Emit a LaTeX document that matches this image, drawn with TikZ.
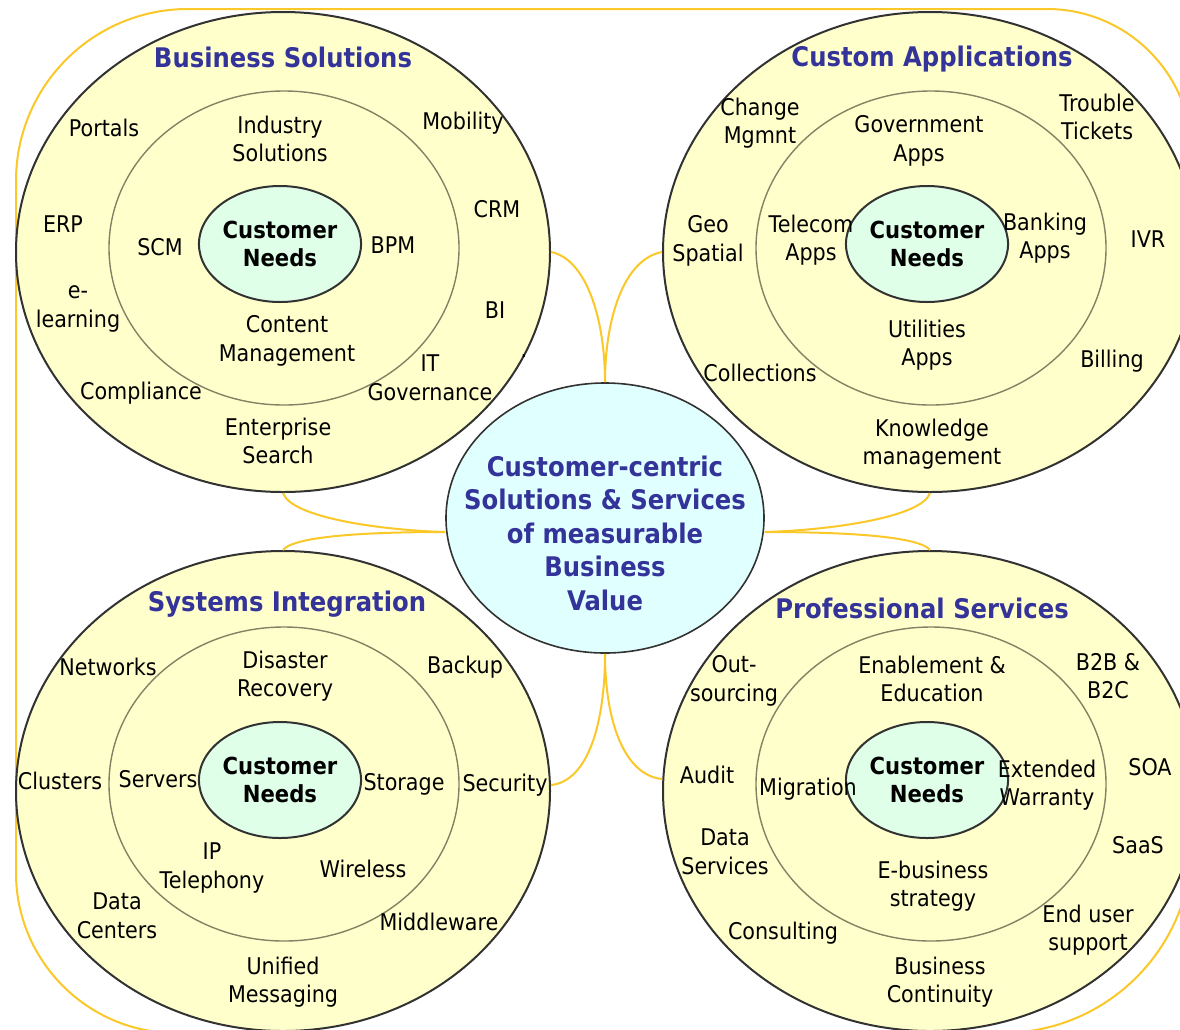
\documentclass[tikz,border=0pt]{standalone}
\usepackage{fontspec}
\setmainfont{DejaVu Sans}[FakeStretch=0.9]
\usetikzlibrary{shapes.geometric}
\definecolor{ringfill}{RGB}{255,255,204}
\definecolor{needfill}{RGB}{224,255,232}
\definecolor{hubfill}{RGB}{224,255,255}
\definecolor{gold}{RGB}{250,200,40}
\definecolor{titleblue}{RGB}{51,51,153}
\definecolor{ringline}{RGB}{50,50,50}
\definecolor{innerline}{RGB}{130,130,100}
\tikzset{
  outerring/.style={ellipse, draw=ringline, line width=2pt, fill=ringfill, minimum width=534pt, minimum height=480pt, inner sep=0pt},
  innerring/.style={ellipse, draw=innerline, line width=1.4pt, minimum width=350pt, minimum height=314pt, inner sep=0pt},
  needs/.style={ellipse, draw=ringline, line width=2pt, fill=needfill, minimum width=136pt, minimum height=116pt, inner sep=0pt, font=\bfseries\fontsize{23.5}{28}\selectfont, align=center},
  hub/.style={ellipse, draw=ringline, line width=1.6pt, fill=hubfill, minimum width=318pt, minimum height=270pt, inner sep=0pt},
  hubtext/.style={font=\bfseries\fontsize{27}{33.5}\selectfont, text=titleblue, align=center, inner sep=0pt},
  ringtitle/.style={font=\bfseries\fontsize{27}{32}\selectfont, text=titleblue, inner sep=0pt},
  lbl/.style={font=\fontsize{23}{28.5}\selectfont, align=center, inner sep=0pt},
  conn/.style={draw=gold, line width=2pt},
  framecurve/.style={draw=gold, line width=2pt}
}
\begin{document}
\begin{tikzpicture}[x=1pt,y=-1pt]
\useasboundingbox (0,0) rectangle (1180,1029);
\fill[white] (0,0) rectangle (1180,1029);
\begin{scope}
\clip (0,0) rectangle (1180,1029);
% outer frame: open on the right, where it runs beyond the picture
\draw[framecurve] (1192,154)
  .. controls (1192,74) and (1127,9) .. (1047,9) -- (188,9)
  .. controls (93,9) and (16,86) .. (16,181) -- (16,873)
  .. controls (16,961) and (88,1033) .. (176,1033) -- (1002,1033)
  .. controls (1107,1033) and (1192,948) .. (1192,843);

% rings
\node[outerring] (tl) at (283,252) {};
\node[outerring] (tr) at (930,252) {};
\node[outerring] (bl) at (283,791) {};
\node[outerring] (br) at (930,791) {};
\node[innerring] (tli) at (284,248) {};
\node[innerring] (tri) at (931,248) {};
\node[innerring] (bli) at (284,784) {};
\node[innerring] (bri) at (931,784) {};
\node[needs] (tln) at (280,244) {Customer\\Needs};
\node[needs] (trn) at (927,244) {Customer\\Needs};
\node[needs] (bln) at (280,780) {Customer\\Needs};
\node[needs] (brn) at (927,780) {Customer\\Needs};

% hub
\node[hub] (hub) at (605,518) {};
\node[hubtext] (hubtxt) at (605,533) {Customer-centric\\Solutions \& Services\\of measurable\\Business\\Value};

% connectors
\draw[conn] (tl.east) .. controls +(35,7) and +(0,-64) .. (hub.north);
\draw[conn] (tr.west) .. controls +(-38,7) and +(0,-64) .. (hub.north);
\draw[conn] (tl.south) .. controls +(8,24) and +(-68,-2) .. ([yshift=-14pt]hub.west);
\draw[conn] (bl.north) .. controls +(12,-15) and +(-68,0) .. ([yshift=-14pt]hub.west);
\draw[conn] (tr.south) .. controls +(-8,24) and +(68,-2) .. ([yshift=-14pt]hub.east);
\draw[conn] (br.north) .. controls +(-12,-15) and +(68,0) .. ([yshift=-14pt]hub.east);
\draw[conn] (hub.south) .. controls +(0,67) and +(-38,-4) .. ([yshift=12pt]br.west);
\draw[conn] (hub.south) .. controls +(0,67) and +(38,-4) .. ([yshift=6pt]bl.east);

% Business Solutions
\node[ringtitle] (tlT) at (283,57) {Business Solutions};
\node[lbl] (tl1) at (104,128) {Portals};
\node[lbl] (tl2) at (280,139) {Industry\\Solutions};
\node[lbl] (tl3) at (463,123) {Mobility};
\node[lbl] (tl4) at (63,224) {ERP};
\node[lbl] (tl5) at (160,247) {SCM};
\node[lbl] (tl6) at (393,245) {BPM};
\node[lbl] (tl7) at (497,209) {CRM};
\node[lbl] (tl8) at (78,309) {e-\\learning};
\node[lbl] (tl9) at (495,310) {BI};
\node[lbl] (tl10) at (287,341) {Content\\Management};
\node[lbl] (tl11) at (430,378) {IT\\Governance};
\node[lbl] (tl12) at (141,393) {Compliance};
\node[lbl] (tl13) at (278,441) {Enterprise\\Search};
\node[lbl] (tldot) at (524,356) {.};

% Custom Applications
\node[ringtitle] (trT) at (932,59) {Custom Applications};
\node[lbl] (tr1) at (760,123) {Change\\Mgmnt};
\node[lbl] (tr2) at (919,141) {Government\\Apps};
\node[lbl] (tr3) at (1097,117) {Trouble\\Tickets};
\node[lbl] (tr4) at (708,241) {Geo\\Spatial};
\node[lbl] (tr5) at (811,240) {Telecom\\Apps};
\node[lbl] (tr6) at (1045,238) {Banking\\Apps};
\node[lbl] (tr7) at (1148,239) {IVR};
\node[lbl] (tr8) at (927,345) {Utilities\\Apps};
\node[lbl] (tr9) at (760,373) {Collections};
\node[lbl] (tr10) at (1112,361) {Billing};
\node[lbl] (tr11) at (932,444) {Knowledge\\management};

% Systems Integration
\node[ringtitle] (blT) at (287,604) {Systems Integration};
\node[lbl] (bl1) at (108,667) {Networks};
\node[lbl] (bl2) at (285,676) {Disaster\\Recovery};
\node[lbl] (bl3) at (465,667) {Backup};
\node[lbl] (bl4) at (60,781) {Clusters};
\node[lbl] (bl5) at (158,779) {Servers};
\node[lbl] (bl6) at (404,784) {Storage};
\node[lbl] (bl7) at (505,785) {Security};
\node[lbl] (bl8) at (212,868) {IP\\Telephony};
\node[lbl] (bl9) at (363,869) {Wireless};
\node[lbl] (bl10) at (117,916) {Data\\Centers};
\node[lbl] (bl11) at (439,922) {Middleware};
\node[lbl] (bl12) at (283,982) {Unified\\Messaging};

% Professional Services
\node[ringtitle] (brT) at (922,608) {Professional Services};
\node[lbl] (br1) at (734,681) {Out-\\sourcing};
\node[lbl] (br2) at (932,679) {Enablement \&\\Education};
\node[lbl] (br3) at (1108,676) {B2B \&\\B2C};
\node[lbl] (br4) at (707,775) {Audit};
\node[lbl] (br5) at (808,789) {Migration};
\node[lbl] (br6) at (1047,785) {Extended\\Warranty};
\node[lbl] (br7) at (1150,767) {SOA};
\node[lbl] (br8) at (725,852) {Data\\Services};
\node[lbl] (br9) at (1138,845) {SaaS};
\node[lbl] (br10) at (933,886) {E-business\\strategy};
\node[lbl] (br11) at (783,933) {Consulting};
\node[lbl] (br12) at (1088,930) {End user\\support};
\node[lbl] (br13) at (940,982) {Business\\Continuity};
\end{scope}
\end{tikzpicture}
\end{document}
